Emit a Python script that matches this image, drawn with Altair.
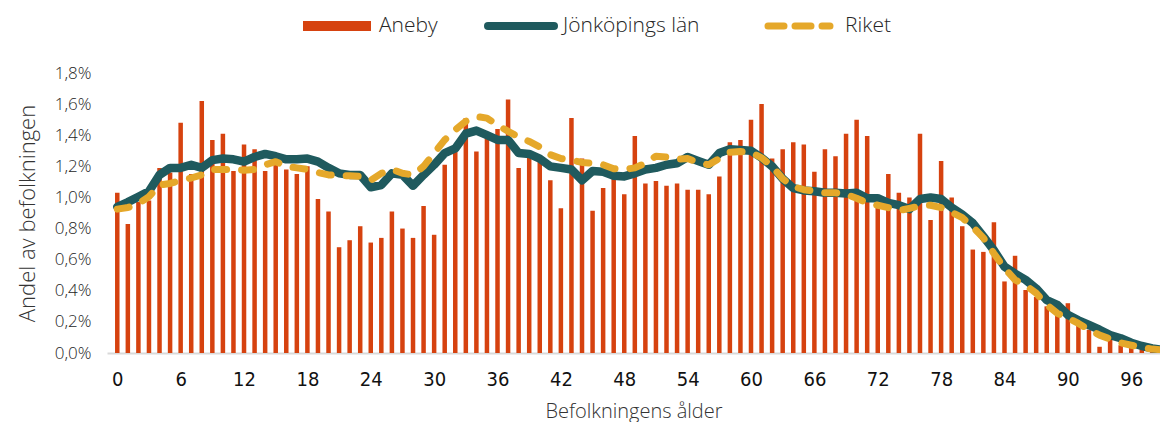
import altair as alt
import pandas as pd

ages = list(range(100))

aneby = [1.03, 0.83, 0.97, 0.98, 1.19, 1.16, 1.48, 1.15, 1.62, 1.37,
         1.41, 1.17, 1.34, 1.31, 1.17, 1.21, 1.18, 1.15, 1.20, 0.99,
         0.91, 0.68, 0.725, 0.815, 0.71, 0.74, 0.91, 0.80, 0.74, 0.945,
         0.76, 1.21, 1.295, 1.51, 1.295, 1.39, 1.44, 1.63, 1.19, 1.26,
         1.24, 1.11, 0.93, 1.51, 1.25, 0.915, 1.06, 1.12, 1.02, 1.395,
         1.09, 1.105, 1.075, 1.09, 1.05, 1.05, 1.02, 1.135, 1.355, 1.37,
         1.50, 1.60, 1.25, 1.31, 1.355, 1.34, 1.165, 1.31, 1.265, 1.41,
         1.50, 1.395, 0.98, 1.15, 1.03, 1.00, 1.41, 0.855, 1.235, 1.00,
         0.815, 0.665, 0.65, 0.84, 0.46, 0.625, 0.405, 0.36, 0.30, 0.275,
         0.32, 0.21, 0.15, 0.04, 0.095, 0.05, 0.035, 0.025, 0.01, 0.005]

jonkoping = [0.94, 0.97, 1.005, 1.04, 1.145, 1.19, 1.19, 1.21, 1.19, 1.24,
             1.25, 1.245, 1.23, 1.26, 1.28, 1.265, 1.245, 1.245, 1.25, 1.23,
             1.19, 1.155, 1.145, 1.145, 1.065, 1.08, 1.155, 1.145, 1.075, 1.145,
             1.21, 1.285, 1.315, 1.41, 1.43, 1.40, 1.37, 1.37, 1.285, 1.28,
             1.25, 1.20, 1.19, 1.18, 1.11, 1.17, 1.165, 1.14, 1.135, 1.155,
             1.18, 1.19, 1.21, 1.22, 1.26, 1.235, 1.21, 1.285, 1.31, 1.305,
             1.30, 1.255, 1.20, 1.12, 1.06, 1.045, 1.04, 1.03, 1.03, 1.025,
             1.03, 0.995, 0.995, 0.965, 0.95, 0.925, 0.99, 1.0, 0.99, 0.935,
             0.89, 0.835, 0.75, 0.66, 0.555, 0.51, 0.47, 0.415, 0.34, 0.31,
             0.245, 0.21, 0.18, 0.15, 0.115, 0.095, 0.066, 0.045, 0.03, 0.02]

riket = [0.925, 0.935, 0.96, 1.005, 1.08, 1.09, 1.11, 1.125, 1.145, 1.18,
         1.18, 1.18, 1.175, 1.18, 1.21, 1.23, 1.20, 1.19, 1.18, 1.16,
         1.145, 1.14, 1.14, 1.135, 1.11, 1.155, 1.18, 1.155, 1.145, 1.20,
         1.285, 1.37, 1.435, 1.49, 1.52, 1.51, 1.465, 1.425, 1.39, 1.36,
         1.325, 1.275, 1.25, 1.24, 1.225, 1.22, 1.21, 1.185, 1.18, 1.19,
         1.22, 1.265, 1.26, 1.245, 1.25, 1.225, 1.21, 1.25, 1.29, 1.295,
         1.29, 1.255, 1.20, 1.12, 1.07, 1.05, 1.04, 1.03, 1.03, 1.02,
         0.995, 0.965, 0.95, 0.935, 0.915, 0.93, 0.945, 0.95, 0.935, 0.905,
         0.87, 0.81, 0.74, 0.64, 0.545, 0.47, 0.435, 0.385, 0.31, 0.255,
         0.225, 0.19, 0.15, 0.115, 0.09, 0.065, 0.05, 0.035, 0.025, 0.02]

x_ticks = list(range(0, 97, 6))
y_ticks = [0, 0.2, 0.4, 0.6, 0.8, 1.0, 1.2, 1.4, 1.6, 1.8]

RED = "#D6420F"
TEAL = "#1F5A5E"
GOLD = "#E5A82A"
LIGHT_FONT = "Open Sans"

bars_df = pd.DataFrame({"age": ages, "value": aneby})
jon_df = pd.DataFrame({"age": ages, "value": jonkoping})
rik_df = pd.DataFrame({"age": ages, "value": riket})

x_scale = alt.Scale(domain=[-0.5, 98.25], nice=False, zero=False)
y_scale = alt.Scale(domain=[0, 1.8], nice=False)

x_axis = alt.Axis(
    values=x_ticks, title="Befolkningens ålder", grid=False, ticks=False,
    domain=True, domainColor="#d9d9d9", domainWidth=2,
    labelFont="DejaVu Sans Condensed", labelFontSize=20, labelColor="#111111",
    labelPadding=16, labelFlush=False, labelOverlap=False,
    titleFont=LIGHT_FONT, titleFontSize=20, titleFontWeight=300,
    titleColor="#333333", titlePadding=12,
)
y_axis = alt.Axis(
    values=y_ticks, title="Andel av befolkningen", grid=False, ticks=False,
    domain=False, labelOverlap=False, labelBound=False, labelFlush=False,
    labelExpr="replace(format(datum.value, '.1f'), '.', ',') + '%'",
    labelFont=LIGHT_FONT, labelFontSize=17, labelFontWeight=300, labelColor="#262626",
    labelPadding=16,
    titleFont=LIGHT_FONT, titleFontSize=22, titleFontWeight=300,
    titleColor="#333333", titlePadding=15,
)

X = alt.X("age:Q", scale=x_scale, axis=x_axis)
Y = alt.Y("value:Q", scale=y_scale, axis=y_axis)

bars = alt.Chart(bars_df).mark_bar(color=RED, size=4.5, clip=True).encode(x=X, y=Y)

jon_line = alt.Chart(jon_df).mark_line(
    color=TEAL, strokeWidth=8.5, strokeJoin="round", strokeCap="round", clip=True
).encode(x=X, y=Y)

rik_line = alt.Chart(rik_df).mark_line(
    color=GOLD, strokeWidth=7, strokeDash=[12, 15], strokeCap="round",
    strokeJoin="round", clip=True
).encode(x=X, y=Y)

# legend (drawn manually above the plot)
one = pd.DataFrame({"k": [0]})
leg_y = -47
leg_rect = alt.Chart(one).mark_rect(color=RED).encode(
    x=alt.value(196), x2=alt.value(264), y=alt.value(leg_y - 5), y2=alt.value(leg_y + 5)
)
leg_teal = alt.Chart(one).mark_rule(color=TEAL, strokeWidth=8, strokeCap="round").encode(
    x=alt.value(381), x2=alt.value(447), y=alt.value(leg_y)
)
leg_gold = alt.Chart(one).mark_rule(
    color=GOLD, strokeWidth=7, strokeCap="round", strokeDash=[16, 11]
).encode(
    x=alt.value(661), x2=alt.value(723), y=alt.value(leg_y)
)
leg_text_df = pd.DataFrame({
    "label": ["Aneby", "Jönköpings län", "Riket"],
    "px": [272, 456, 738],
})
leg_text = alt.Chart(leg_text_df).mark_text(
    align="left", baseline="middle", font=LIGHT_FONT, fontSize=21, fontWeight=300,
    color="#262626"
).encode(
    x=alt.X("px:Q", scale=None), y=alt.value(leg_y), text="label:N"
)

chart = alt.layer(
    bars, jon_line, rik_line, leg_rect, leg_teal, leg_gold, leg_text
).properties(
    width=1053, height=280,
    autosize=alt.AutoSizeParams(type="none"),
    padding={"left": 99, "top": 65, "right": 0, "bottom": 69},
).configure_view(stroke=None).configure_axis(labelOverlap=False)

chart.save("out.html", embed_options={"renderer": "svg", "actions": False})
